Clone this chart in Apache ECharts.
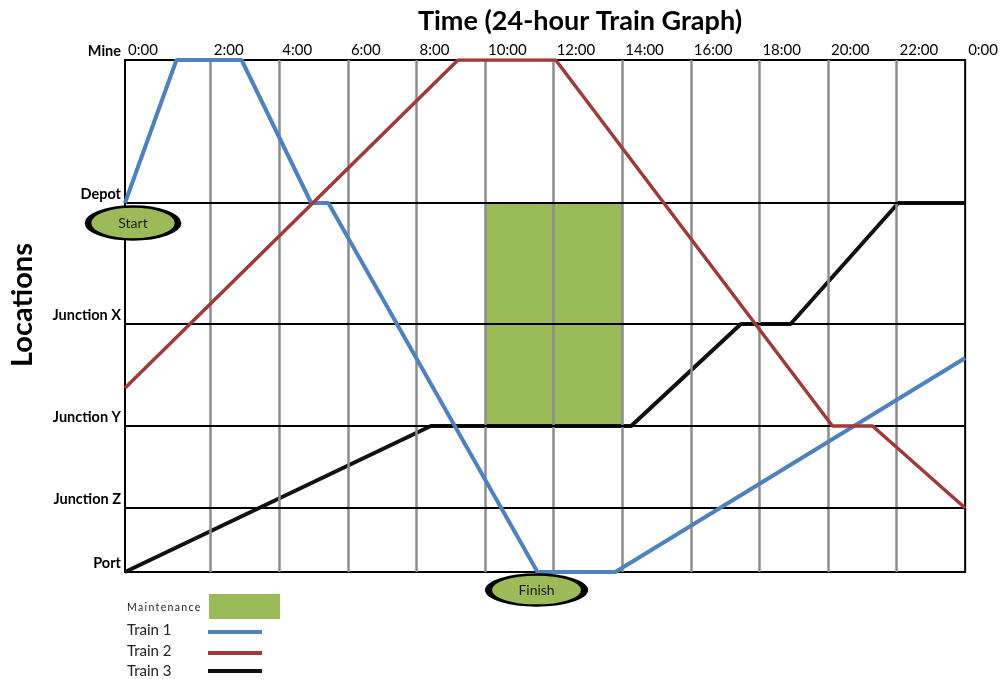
<!DOCTYPE html>
<html>
<head>
<meta charset="utf-8">
<script src="https://cdn.jsdelivr.net/npm/echarts@6/dist/echarts.min.js"></script>
<style>
  html, body { margin: 0; padding: 0; background: #fff; }
  #chart { width: 1001px; height: 679px; }
</style>
</head>
<body>
<div id="chart"></div>
<script>
// Locations along the line, measured as track distance from the port
const locationNames = ['Port', 'Junction Z', 'Junction Y', 'Junction X', 'Depot', 'Mine'];
const locationKm = [0, 64, 146, 248, 369, 512];

// Time axis (hours); the day starts at the left edge of the plot
const xTickValues = [-0.5, 2, 4, 6, 8, 10, 12, 14, 16, 18, 20, 22, 24];
const xTickLabels = ['0:00', '2:00', '4:00', '6:00', '8:00', '10:00', '12:00', '14:00', '16:00', '18:00', '20:00', '22:00', '0:00'];
const gridHours = [2, 4, 6, 8, 10, 12, 14, 16, 18, 20, 22];

// Train movements: time (h) and position (km)
const train1Hours = [-0.5, 1.0, 2.9, 4.93, 5.43, 11.53, 13.8, 24];
const train1Km = [369, 512, 512, 369, 369, 0, 0, 214];
const train2Hours = [-0.5, 9.21, 12.06, 20.13, 21.3, 24];
const train2Km = [184, 512, 512, 146, 146, 64];
const train3Hours = [-0.5, 8.42, 14.26, 17.46, 18.91, 22.05, 24];
const train3Km = [0, 146, 146, 248, 248, 369, 369];

// Maintenance window: 10:00-14:00 between Junction Y and Depot
const maintenanceHours = [10, 14];
const maintenanceKm = [146, 369];

const FONT = 'Lato, "Open Sans", sans-serif';
const GREEN = '#9BBB59';
const BLUE = '#4F81BD';
const RED = '#9E3A37';
const BLACK = '#111111';

const zip = (xs, ys) => xs.map((x, i) => [x, ys[i]]);
const kmOf = name => locationKm[locationNames.indexOf(name)];

const chart = echarts.init(document.getElementById('chart'), null, { renderer: 'canvas' });

const option = {
  animation: false,
  backgroundColor: '#ffffff',
  title: {
    text: 'Time (24-hour Train Graph)',
    left: 575,
    top: 3,
    textAlign: 'center',
    textStyle: { fontFamily: FONT, fontSize: 27, fontWeight: 'bold', color: '#000' }
  },
  grid: {
    left: 125, right: 33, top: 60, bottom: 107,
    show: true, borderColor: '#000', borderWidth: 2, backgroundColor: 'transparent'
  },
  xAxis: {
    type: 'value',
    position: 'top',
    min: -0.5,
    max: 24,
    axisLine: { show: false, onZero: false },
    axisTick: { show: false },
    splitLine: { show: false },
    axisLabel: {
      customValues: xTickValues,
      formatter: v => xTickLabels[xTickValues.indexOf(v)],
      align: 'left',
      verticalAlign: 'bottom',
      padding: [0, 0, 0, 3],
      margin: 2,
      fontFamily: FONT,
      fontSize: 15,
      color: '#000'
    }
  },
  yAxis: {
    type: 'value',
    min: 0,
    max: 512,
    name: 'Locations',
    nameLocation: 'middle',
    nameRotate: 90,
    nameGap: 88,
    nameTextStyle: { fontFamily: FONT, fontSize: 29, fontWeight: 'bold', color: '#000', padding: [0, 0, 0, 22] },
    axisLine: { show: true, onZero: false, lineStyle: { color: '#000', width: 2 } },
    axisTick: { show: false },
    splitLine: { show: false },
    axisLabel: {
      customValues: locationKm,
      formatter: v => locationNames[locationKm.indexOf(v)],
      verticalAlign: 'bottom',
      lineHeight: 17,
      margin: 4,
      fontFamily: FONT,
      fontSize: 14.5,
      fontWeight: 'bold',
      color: '#000'
    }
  },
  series: [
    {
      name: 'Maintenance',
      type: 'line',
      data: [],
      z: 1,
      silent: true,
      markArea: {
        silent: true,
        itemStyle: { color: GREEN, opacity: 1 },
        data: [[
          { xAxis: maintenanceHours[0], yAxis: maintenanceKm[0] },
          { xAxis: maintenanceHours[1], yAxis: maintenanceKm[1] }
        ]]
      }
    },
    {
      name: 'hour lines',
      type: 'line',
      data: [],
      z: 2,
      silent: true,
      markLine: {
        silent: true,
        symbol: ['none', 'none'],
        label: { show: false },
        lineStyle: { color: '#8c8c8c', width: 2.5, type: 'solid' },
        data: gridHours.map(h => ({ xAxis: h }))
      }
    },
    {
      name: 'location lines',
      type: 'line',
      data: [],
      z: 3,
      silent: true,
      markLine: {
        silent: true,
        symbol: ['none', 'none'],
        label: { show: false },
        lineStyle: { color: '#000', width: 2, type: 'solid' },
        data: ['Junction Z', 'Junction Y', 'Junction X', 'Depot'].map(n => ({ yAxis: kmOf(n) }))
      }
    },
    {
      name: 'Train 3',
      type: 'line',
      z: 4,
      showSymbol: false,
      data: zip(train3Hours, train3Km),
      lineStyle: { color: BLACK, width: 4 },
      itemStyle: { color: BLACK }
    },
    {
      name: 'Train 1',
      type: 'line',
      z: 5,
      showSymbol: false,
      data: zip(train1Hours, train1Km),
      lineStyle: { color: BLUE, width: 4 },
      itemStyle: { color: BLUE }
    },
    {
      name: 'Train 2',
      type: 'line',
      z: 6,
      showSymbol: false,
      data: zip(train2Hours, train2Km),
      lineStyle: { color: RED, width: 3.5 },
      itemStyle: { color: RED }
    },
    {
      name: 'Start',
      type: 'scatter',
      z: 7,
      clip: false,
      silent: true,
      symbol: 'circle',
      symbolSize: [90, 33],
      symbolOffset: [8, 20],
      itemStyle: { color: GREEN, opacity: 1, borderColor: '#000', borderWidth: 4 },
      label: { show: true, position: 'inside', formatter: 'Start', fontFamily: FONT, fontSize: 14, color: '#1a1a1a' },
      data: [[train1Hours[0], train1Km[0]]]
    },
    {
      name: 'Finish',
      type: 'scatter',
      z: 7,
      clip: false,
      silent: true,
      symbol: 'circle',
      symbolSize: [96, 31],
      symbolOffset: [-1, 18],
      itemStyle: { color: GREEN, opacity: 1, borderColor: '#000', borderWidth: 4 },
      label: { show: true, position: 'inside', formatter: 'Finish', fontFamily: FONT, fontSize: 14, color: '#1a1a1a' },
      data: [[train1Hours[5], train1Km[5]]]
    }
  ],
  graphic: [
    { type: 'text', left: 127, top: 602, style: { text: 'M\u2009a\u2009i\u2009n\u2009t\u2009e\u2009n\u2009a\u2009n\u2009c\u2009e', fontFamily: FONT, fontSize: 10.5, fill: '#222' } },
    { type: 'rect', left: 209, top: 594, shape: { width: 71, height: 25 }, style: { fill: GREEN } },
    { type: 'text', left: 127, top: 623, style: { text: 'Train 1', fontFamily: FONT, fontSize: 15, fill: '#222' } },
    { type: 'line', shape: { x1: 208, y1: 632, x2: 262, y2: 632 }, style: { stroke: BLUE, lineWidth: 4 } },
    { type: 'text', left: 127, top: 644, style: { text: 'Train 2', fontFamily: FONT, fontSize: 15, fill: '#222' } },
    { type: 'line', shape: { x1: 208, y1: 653, x2: 262, y2: 653 }, style: { stroke: RED, lineWidth: 4 } },
    { type: 'text', left: 127, top: 664, style: { text: 'Train 3', fontFamily: FONT, fontSize: 15, fill: '#222' } },
    { type: 'line', shape: { x1: 208, y1: 671, x2: 262, y2: 671 }, style: { stroke: BLACK, lineWidth: 4 } }
  ]
};

chart.setOption(option);
</script>
</body>
</html>
